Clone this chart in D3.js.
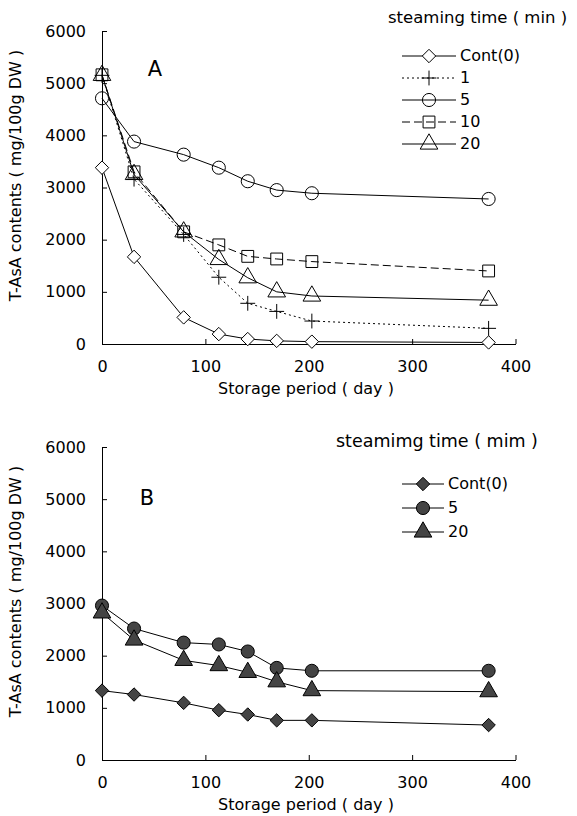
<!DOCTYPE html>
<html>
<head>
<meta charset="utf-8">
<script src="https://cdn.jsdelivr.net/npm/d3@7"></script>
<style>
  body { margin: 0; background: #fff; }
  svg { display: block; font-family: "DejaVu Sans", sans-serif; }
</style>
</head>
<body>
<div id="chart"></div>
<script>
// storage period (day)
const days = [0, 31, 79, 113, 141, 169, 203, 374];
const xTicks = [0, 100, 200, 300, 400];
const yTicks = [0, 1000, 2000, 3000, 4000, 5000, 6000];

// panel A : steaming time (min)
const labelsA = ["Cont(0)", "1", "5", "10", "20"];
const cont0A = [3380, 1670, 510, 190, 95, 60, 45, 30];
const min1A = [5150, 3160, 2100, 1280, 780, 625, 440, 300];
const min5A = [4710, 3880, 3630, 3380, 3120, 2950, 2890, 2780];
const min10A = [5160, 3300, 2150, 1900, 1680, 1630, 1580, 1400];
const min20A = [5150, 3250, 2150, 1620, 1270, 1000, 920, 840];

// panel B
const labelsB = ["Cont(0)", "5", "20"];
const cont0B = [1330, 1255, 1095, 955, 872, 760, 760, 670];
const min5B = [2960, 2520, 2250, 2215, 2080, 1765, 1710, 1710];
const min20B = [2820, 2300, 1910, 1810, 1680, 1500, 1330, 1310];

const W = 577, H = 816;
const svg = d3.select("#chart").append("svg")
  .attr("width", W).attr("height", H);

// custom symbols: thin plus and a wide diamond
const plusSymbol = {
  draw(ctx, size) {
    const r = Math.sqrt(size) / 2;
    ctx.moveTo(-r, 0); ctx.lineTo(r, 0);
    ctx.moveTo(0, -r); ctx.lineTo(0, r);
  }
};
const diamondSymbol = {
  draw(ctx, size) {
    const r = Math.sqrt(size) / 2;
    ctx.moveTo(0, -r); ctx.lineTo(r, 0); ctx.lineTo(0, r); ctx.lineTo(-r, 0);
    ctx.closePath();
  }
};
const symbolTypes = {
  diamond: diamondSymbol,
  plus: plusSymbol,
  circle: d3.symbolCircle,
  square: d3.symbolSquare,
  triangle: d3.symbolTriangle
};
const symbolSizes = { diamond: 180, plus: 220, circle: 135, square: 140, triangle: 135 };

const addMarker = (g, type, x, y, fill) => {
  g.append("path")
    .attr("d", d3.symbol().type(symbolTypes[type]).size(symbolSizes[type])())
    .attr("transform", `translate(${x},${y})`)
    .attr("fill", fill)
    .attr("stroke", "#000")
    .attr("stroke-width", 1);
};

/**
 * DRAW ONE PANEL
 */
const drawPanel = (opts) => {
  const { top, bottom, series, letter, letterPos, legend } = opts;
  const x = d3.scaleLinear().domain([0, 400]).range([102, 515.5]);
  const y = d3.scaleLinear().domain([0, 6000]).range([bottom, top]);
  const g = svg.append("g");

  // AXES
  const yAxis = d3.axisLeft(y).tickValues(yTicks).tickFormat(d3.format("d"))
    .tickSizeInner(-5).tickSizeOuter(0).tickPadding(16);
  const xAxis = d3.axisBottom(x).tickValues(xTicks).tickFormat(d3.format("d"))
    .tickSizeInner(-5).tickSizeOuter(0).tickPadding(17);
  g.append("g").attr("transform", "translate(102,0)").call(yAxis);
  g.append("g").attr("transform", `translate(0,${bottom})`).call(xAxis);
  g.selectAll(".tick text").attr("font-size", 16).attr("font-family", "DejaVu Sans").attr("fill", "#000");
  g.selectAll(".domain, .tick line").attr("stroke", "#000");

  // AXIS TITLES
  g.append("text")
    .attr("x", 306).attr("y", bottom + 45)
    .attr("text-anchor", "middle").attr("dominant-baseline", "middle")
    .attr("font-size", 16)
    .text("Storage period ( day )");
  g.append("text")
    .attr("transform", `translate(16,${(top + bottom) / 2 - 12}) rotate(-90)`)
    .attr("text-anchor", "middle").attr("dominant-baseline", "middle")
    .attr("font-size", 16)
    .text("T-AsA contents ( mg/100g DW )");

  // PANEL LETTER
  g.append("text")
    .attr("x", letterPos[0]).attr("y", letterPos[1])
    .attr("text-anchor", "middle").attr("dominant-baseline", "middle")
    .attr("font-size", 21)
    .text(letter);

  // LINES + MARKERS
  const line = d3.line().x((d, i) => x(days[i])).y(d => y(d));
  series.forEach(s => {
    g.append("path")
      .attr("d", line(s.values))
      .attr("fill", "none")
      .attr("stroke", "#000")
      .attr("stroke-width", 1)
      .attr("stroke-dasharray", s.dash);
    s.values.forEach((v, i) => addMarker(g, s.marker, x(days[i]), y(v), s.fill));
  });

  // LEGEND
  g.append("text")
    .attr("x", legend.titleX).attr("y", legend.titleY)
    .attr("dominant-baseline", "middle")
    .attr("font-size", legend.titleSize)
    .text(legend.title);
  series.forEach((s, i) => {
    const ly = legend.rows[i];
    g.append("line")
      .attr("x1", legend.x1).attr("x2", legend.x2)
      .attr("y1", ly).attr("y2", ly)
      .attr("stroke", "#000").attr("stroke-width", 1)
      .attr("stroke-dasharray", s.dash);
    addMarker(g, s.marker, (legend.x1 + legend.x2) / 2, ly, s.fill);
    g.append("text")
      .attr("x", legend.x2 + 4).attr("y", ly)
      .attr("dominant-baseline", "middle")
      .attr("font-size", 16)
      .text(s.label);
  });
};

drawPanel({
  top: 31, bottom: 344, letter: "A", letterPos: [155, 70],
  series: [
    { label: labelsA[0], values: cont0A, marker: "diamond", fill: "#fff", dash: null },
    { label: labelsA[1], values: min1A, marker: "plus", fill: "none", dash: "2,3" },
    { label: labelsA[2], values: min5A, marker: "circle", fill: "none", dash: null },
    { label: labelsA[3], values: min10A, marker: "square", fill: "none", dash: "8,4" },
    { label: labelsA[4], values: min20A, marker: "triangle", fill: "none", dash: null }
  ],
  legend: {
    title: "steaming time ( min )", titleX: 388, titleY: 18, titleSize: 16.5,
    x1: 402, x2: 456, rows: [56, 78, 100, 122, 144]
  }
});

drawPanel({
  top: 447, bottom: 760, letter: "B", letterPos: [147, 499],
  series: [
    { label: labelsB[0], values: cont0B, marker: "diamond", fill: "#444", dash: null },
    { label: labelsB[1], values: min5B, marker: "circle", fill: "#444", dash: null },
    { label: labelsB[2], values: min20B, marker: "triangle", fill: "#444", dash: null }
  ],
  legend: {
    title: "steamimg time ( mim )", titleX: 336, titleY: 442, titleSize: 17.5,
    x1: 402, x2: 444, rows: [484, 508, 532]
  }
});
</script>
</body>
</html>
